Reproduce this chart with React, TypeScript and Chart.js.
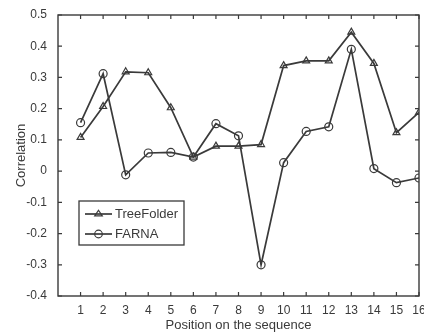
import React, { useEffect, useRef } from "react";
import { Chart, registerables } from "chart.js";

Chart.register(...registerables);

const positions = [1, 2, 3, 4, 5, 6, 7, 8, 9, 10, 11, 12, 13, 14, 15, 16];
const treeFolder = [0.108, 0.207, 0.318, 0.315, 0.203, 0.045, 0.08, 0.08, 0.085, 0.338, 0.353, 0.353, 0.445, 0.345, 0.123, 0.188];
const farna = [0.155, 0.312, -0.012, 0.058, 0.06, 0.045, 0.152, 0.113, -0.3, 0.027, 0.127, 0.142, 0.39, 0.008, -0.037, -0.022];
const seriesLabels = ["TreeFolder", "FARNA"];
const seriesStyles = ["triangle", "circle"];
const xTickValues = [1, 2, 3, 4, 5, 6, 7, 8, 9, 10, 11, 12, 13, 14, 15, 16];
const yTickValues = [-0.4, -0.3, -0.2, -0.1, 0, 0.1, 0.2, 0.3, 0.4, 0.5];

const INK = "#3a3a3a";
const FONT = "'Liberation Sans', Arial, sans-serif";

const frameAndTicks = {
  id: "frameAndTicks",
  afterDatasetsDraw(chart: any) {
    const { ctx, chartArea } = chart;
    const { left, right, top, bottom } = chartArea;
    const xs = chart.scales.x;
    const ys = chart.scales.y;
    ctx.save();
    ctx.strokeStyle = INK;
    ctx.lineWidth = 1.4;
    ctx.strokeRect(left, top, right - left, bottom - top);
    ctx.lineWidth = 1.2;
    const tl = 4;
    ctx.beginPath();
    xTickValues.forEach((v) => {
      const px = xs.getPixelForValue(v);
      ctx.moveTo(px, bottom);
      ctx.lineTo(px, bottom - tl);
      ctx.moveTo(px, top);
      ctx.lineTo(px, top + tl);
    });
    yTickValues.forEach((v) => {
      const py = ys.getPixelForValue(v);
      ctx.moveTo(left, py);
      ctx.lineTo(left + tl, py);
      ctx.moveTo(right, py);
      ctx.lineTo(right - tl, py);
    });
    ctx.stroke();
    ctx.restore();
  },
};

function drawMarker(ctx: CanvasRenderingContext2D, style: string, x: number, y: number, r: number) {
  ctx.beginPath();
  if (style === "circle") {
    ctx.arc(x, y, r, 0, Math.PI * 2);
  } else {
    const h = r * 1.5;
    ctx.moveTo(x, y - h * 0.66);
    ctx.lineTo(x + r, y + h * 0.34);
    ctx.lineTo(x - r, y + h * 0.34);
    ctx.closePath();
  }
  ctx.stroke();
}

const boxLegend = {
  id: "boxLegend",
  afterDraw(chart: any) {
    const { ctx } = chart;
    const bx = 79, by = 201, bw = 105, bh = 44;
    ctx.save();
    ctx.fillStyle = "#ffffff";
    ctx.fillRect(bx, by, bw, bh);
    ctx.strokeStyle = INK;
    ctx.lineWidth = 1.3;
    ctx.strokeRect(bx, by, bw, bh);
    chart.data.datasets.forEach((ds: any, i: number) => {
      const y = by + 13 + i * 20;
      ctx.strokeStyle = INK;
      ctx.lineWidth = 1.7;
      ctx.beginPath();
      ctx.moveTo(85, y);
      ctx.lineTo(112, y);
      ctx.stroke();
      ctx.lineWidth = 1.2;
      drawMarker(ctx, seriesStyles[i], 98.5, y, 3.8);
      ctx.fillStyle = INK;
      ctx.font = `13px ${FONT}`;
      ctx.textBaseline = "middle";
      ctx.textAlign = "left";
      ctx.fillText(ds.label, 115, y + 0.5);
    });
    ctx.restore();
  },
};

export default function App() {
  const ref = useRef<HTMLCanvasElement | null>(null);
  useEffect(() => {
    if (!ref.current) return;
    const mk = (vals: number[]) => positions.map((p, i) => ({ x: p, y: vals[i] }));
    const chart = new Chart(ref.current, {
      type: "scatter",
      data: {
        datasets: [treeFolder, farna].map((vals, i) => ({
          label: seriesLabels[i],
          data: mk(vals),
          showLine: true,
          borderColor: INK,
          borderWidth: 1.7,
          pointStyle: seriesStyles[i] as any,
          pointRadius: 4,
          pointBorderWidth: 1.2,
          pointBorderColor: INK,
          pointBackgroundColor: "rgba(0,0,0,0)",
          tension: 0,
        })),
      },
      options: {
        animation: false,
        responsive: false,
        layout: { padding: { left: 0, top: 15, right: 21, bottom: 0 } },
        plugins: { legend: { display: false }, tooltip: { enabled: false } },
        scales: {
          x: {
            type: "linear",
            min: 0,
            max: 16,
            grid: { display: false },
            border: { display: false },
            afterFit: (s: any) => { s.height = 36; },
            afterBuildTicks: (s: any) => { s.ticks = [0, ...xTickValues].map((v) => ({ value: v })); },
            ticks: {
              color: INK,
              padding: -1,
              font: { family: FONT, size: 12 },
              callback: (v: any) => (v === 0 ? "" : String(v)),
            },
            title: {
              display: true,
              text: "Position on the sequence",
              color: INK,
              font: { family: FONT, size: 13 },
              padding: { top: 0, bottom: -1 },
            },
          },
          y: {
            min: -0.4,
            max: 0.5,
            grid: { display: false },
            border: { display: false },
            afterFit: (s: any) => { s.width = 58; },
            afterBuildTicks: (s: any) => { s.ticks = yTickValues.map((v) => ({ value: v })); },
            ticks: {
              color: INK,
              padding: 3,
              font: { family: FONT, size: 12 },
              callback: (v: any) => {
                const n = Math.round(Number(v) * 10) / 10;
                return n === 0 ? "0" : n.toFixed(1);
              },
            },
            title: {
              display: true,
              text: "Correlation",
              color: INK,
              font: { family: FONT, size: 13 },
              padding: { top: 14, bottom: 0 },
            },
          },
        },
      },
      plugins: [frameAndTicks, boxLegend],
    });
    return () => chart.destroy();
  }, []);
  return (
    <div style={{ position: "fixed", left: 0, top: 0, width: 424, height: 332, overflow: "hidden", background: "#fff" }}>
      <canvas ref={ref} width={440} height={332} style={{ display: "block", width: 440, height: 332 }} />
    </div>
  );
}
